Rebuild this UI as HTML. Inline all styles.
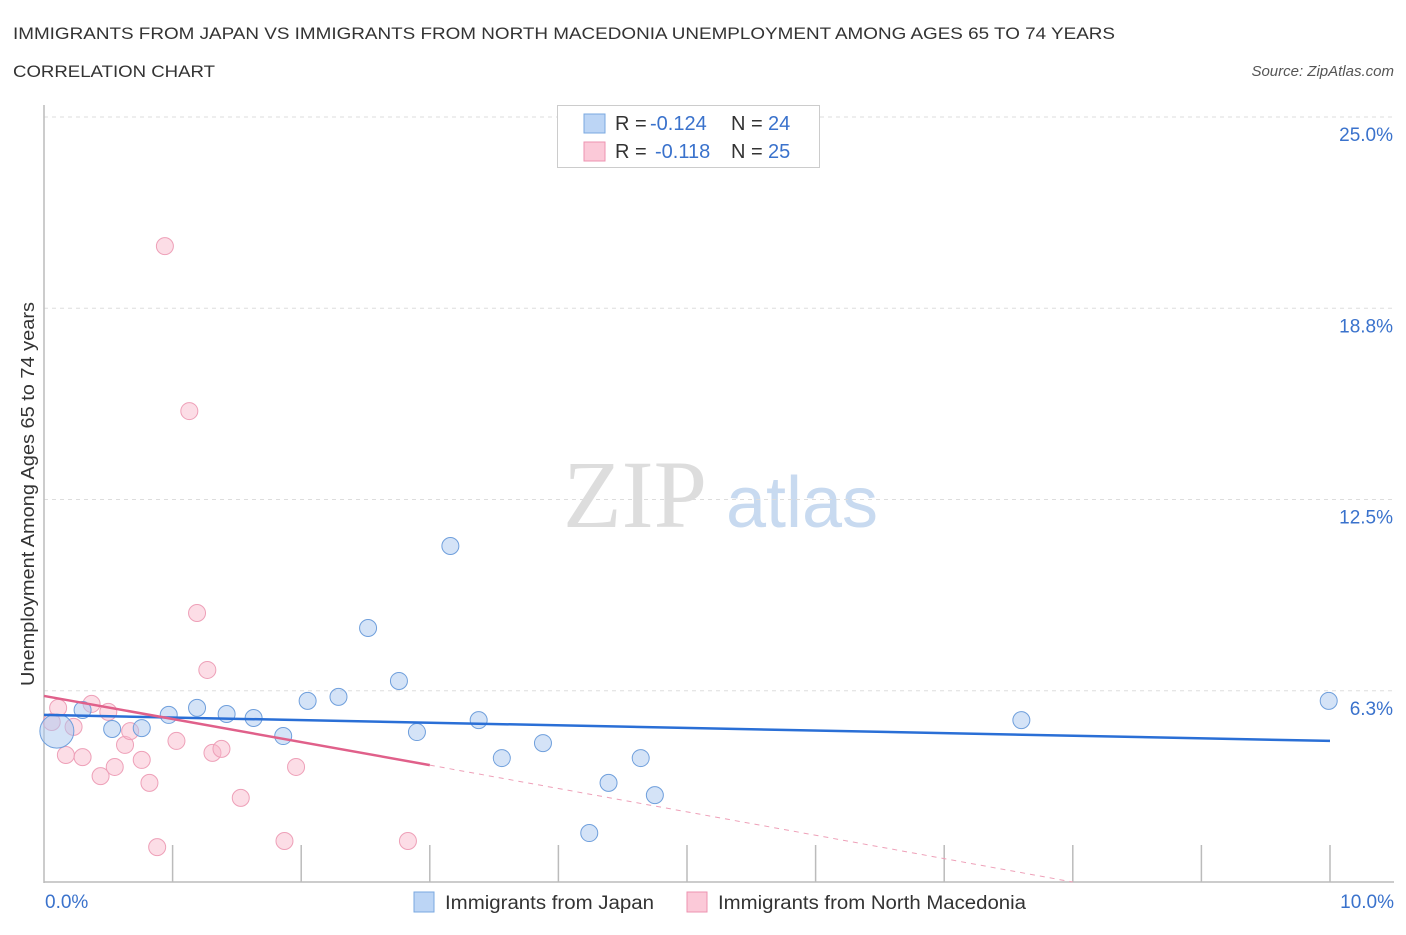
<!DOCTYPE html>
<html><head><meta charset="utf-8"><style>
body{margin:0;background:#fff;font-family:"Liberation Sans",sans-serif;}
#c{position:relative;width:1406px;height:930px;}
</style></head><body>
<div id="c">
<svg id="s" width="1406" height="930" xmlns="http://www.w3.org/2000/svg">
<text x="13" y="39" font-size="17" fill="#333" textLength="1102" lengthAdjust="spacingAndGlyphs">IMMIGRANTS FROM JAPAN VS IMMIGRANTS FROM NORTH MACEDONIA UNEMPLOYMENT AMONG AGES 65 TO 74 YEARS</text>
<text x="13" y="77" font-size="17" fill="#333" textLength="202" lengthAdjust="spacingAndGlyphs">CORRELATION CHART</text>
<text x="1394" y="76" font-size="15" fill="#555" font-style="italic" text-anchor="end">Source: ZipAtlas.com</text>
<text x="635" y="527" font-size="96" fill="#ddd" font-family="Liberation Serif,serif" text-anchor="middle">ZIP</text>
<text x="802" y="527" font-size="72" fill="#c8daf0" text-anchor="middle">atlas</text>
<text transform="translate(34,494) rotate(-90)" font-size="18" fill="#333" text-anchor="middle" textLength="384" lengthAdjust="spacingAndGlyphs">Unemployment Among Ages 65 to 74 years</text>
<g id="grid"></g><g id="marks"></g>
<g>
<rect x="557.5" y="105.5" width="262" height="62" fill="#fff" stroke="#ccc"/>
<rect x="584" y="114" width="21" height="19" fill="#bcd5f5" stroke="#7aa8e0"/>
<rect x="584" y="142" width="21" height="19" fill="#fbc9d8" stroke="#ee93b0"/>
<text x="615" y="130" font-size="20" fill="#333">R = <tspan x="650" fill="#3a72cc">-0.124</tspan><tspan x="731">N = </tspan><tspan x="768" fill="#3a72cc">24</tspan></text>
<text x="615" y="158" font-size="20" fill="#333">R = <tspan x="655" fill="#3a72cc">-0.118</tspan><tspan x="731">N = </tspan><tspan x="768" fill="#3a72cc">25</tspan></text>
</g>
<g>
<rect x="414" y="892" width="20" height="20" fill="#bcd5f5" stroke="#7aa8e0"/>
<text x="445" y="909" font-size="19" fill="#333" textLength="209" lengthAdjust="spacingAndGlyphs">Immigrants from Japan</text>
<rect x="687" y="892" width="20" height="20" fill="#fbc9d8" stroke="#ee93b0"/>
<text x="718" y="909" font-size="19" fill="#333" textLength="308" lengthAdjust="spacingAndGlyphs">Immigrants from North Macedonia</text>
</g>
<text x="45" y="908" font-size="19" fill="#3a72cc">0.0%</text>
<text x="1394" y="908" font-size="19" fill="#3a72cc" text-anchor="end">10.0%</text>
</svg></div>
<script>
const yTicks=[6.25,12.5,18.75,25];
const yTickLabels=["6.3%","12.5%","18.8%","25.0%"];
const japanX=[0.10,0.30,0.53,0.76,0.97,1.19,1.42,1.63,1.86,2.05,2.29,2.52,2.76,2.90,3.16,3.38,3.56,3.88,4.24,4.39,4.64,4.75,7.60,9.99];
const japanY=[4.93,5.62,5.00,5.03,5.46,5.69,5.49,5.36,4.77,5.92,6.05,8.30,6.57,4.90,10.98,5.29,4.05,4.54,1.60,3.24,4.05,2.84,5.29,5.92];
const macX=[0.94,1.13,1.19,1.27,0.06,0.11,0.23,0.17,0.30,0.37,0.44,0.50,0.55,0.63,0.67,0.76,0.82,0.88,1.03,1.31,1.38,1.53,1.87,1.96,2.83];
const macY=[20.78,15.39,8.79,6.93,5.23,5.69,5.07,4.15,4.08,5.82,3.46,5.56,3.76,4.48,4.93,3.99,3.24,1.14,4.61,4.22,4.35,2.75,1.34,3.76,1.34];
const japanTrend=[5.46,4.61];
const macTrend=[6.08,3.82,0.0];
const macTrendX=[0,3,8];
const X=v=>44+v*128.6, Y=v=>882-v*30.6;
const NS="http://www.w3.org/2000/svg";
const s=document.getElementById('s'),g=document.getElementById('grid'),m=document.getElementById('marks');
function el(t,a,p){const e=document.createElementNS(NS,t);for(const k in a)e.setAttribute(k,a[k]);p.appendChild(e);return e;}
yTicks.forEach((v,i)=>{
 const l=el('line',{x1:44,x2:1394,y1:Y(v),y2:Y(v),stroke:'#ddd','stroke-dasharray':'4,4'},g);
 
 
 const t=el('text',{x:1393,y:Y(v)+24,'font-size':19,fill:'#3a72cc','text-anchor':'end'},g);
 t.textContent=yTickLabels[i];
 
 
});
el('line',{x1:44,x2:44,y1:105,y2:883,stroke:'#bbb','stroke-width':1.5},g);
el('line',{x1:44,x2:1394,y1:882,y2:882,stroke:'#bbb','stroke-width':1.5},g);
for(let i=1;i<=10;i++){const t=el('line',{x1:X(i),x2:X(i),y1:845,y2:882,stroke:'#bbb','stroke-width':1.5},g);
 
 }
macX.forEach((x,i)=>{const c=el('circle',{cx:X(x),cy:Y(macY[i]),r:8.5,fill:'rgba(248,180,200,0.45)',stroke:'#eea0b8','stroke-width':1},m);
 
 });
japanX.forEach((x,i)=>{const c=el('circle',{cx:X(x),cy:Y(japanY[i]),r:i==0?17:8.5,fill:'rgba(170,200,240,0.5)',stroke:'#6f9fdc','stroke-width':1},m);
 
 });
let l=el('line',{x1:X(0),y1:Y(japanTrend[0]),x2:X(10),y2:Y(japanTrend[1]),stroke:'#2a6fd6','stroke-width':2.5},m);


l=el('line',{x1:X(macTrendX[0]),y1:Y(macTrend[0]),x2:X(macTrendX[1]),y2:Y(macTrend[1]),stroke:'#e0608a','stroke-width':2.5},m);


l=el('line',{x1:X(macTrendX[1]),y1:Y(macTrend[1]),x2:X(macTrendX[2]),y2:Y(macTrend[2]),stroke:'#eea0b8','stroke-width':1,'stroke-dasharray':'5,5'},m);


</script>
</body></html>
